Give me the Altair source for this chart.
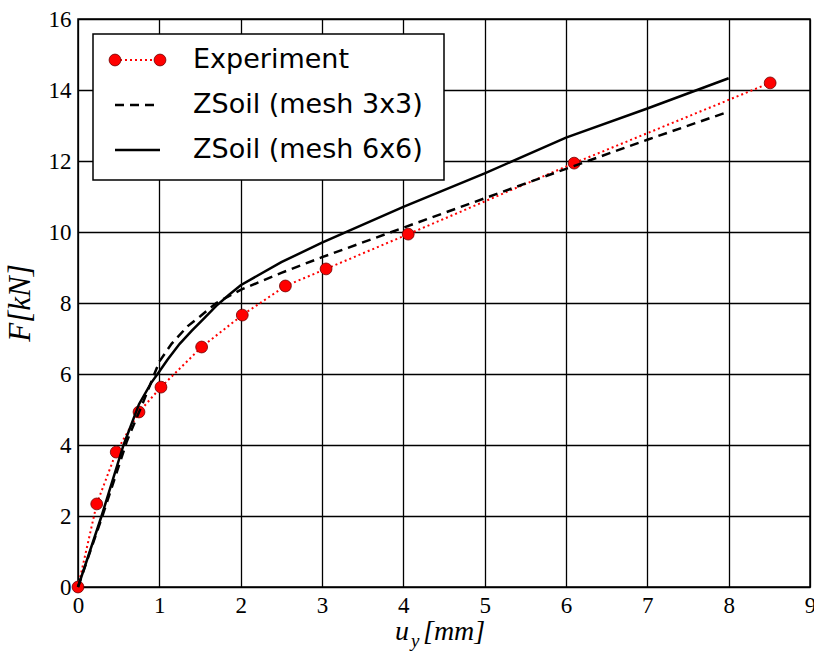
import altair as alt
import pandas as pd

# Experiment data
exp_u = [0, 0.23, 0.47, 0.75, 1.02, 1.52, 2.02, 2.55, 3.05, 4.06, 6.10, 8.51]
exp_F = [0, 2.34, 3.80, 4.93, 5.63, 6.76, 7.66, 8.48, 8.96, 9.94, 11.94, 14.20]

# ZSoil mesh 3x3 (dashed)
m3_u = [0, 0.30, 0.60, 0.80, 1.00, 1.15, 1.35, 1.50, 1.70, 2.00, 2.50, 3.00, 4.00, 5.00, 6.00, 7.00, 8.00]
m3_F = [0, 2.00, 4.10, 5.20, 6.35, 6.85, 7.35, 7.62, 8.00, 8.37, 8.85, 9.29, 10.12, 10.95, 11.78, 12.60, 13.39]

# ZSoil mesh 6x6 (solid)
m6_u = [0, 0.29, 0.56, 0.75, 0.90, 1.00, 1.10, 1.25, 1.40, 1.55, 1.70, 1.85, 2.00, 2.50, 3.00, 4.00, 5.00, 6.00, 7.00, 8.00]
m6_F = [0, 2.00, 4.00, 5.15, 5.75, 6.07, 6.40, 6.85, 7.22, 7.57, 7.92, 8.22, 8.50, 9.15, 9.70, 10.71, 11.65, 12.66, 13.48, 14.33]

x_ticks = list(range(0, 10))
y_ticks = list(range(0, 17, 2))
legend_labels = ["Experiment", "ZSoil (mesh 3x3)", "ZSoil (mesh 6x6)"]

df_exp = pd.DataFrame({"u": exp_u, "F": exp_F})
df_m3 = pd.DataFrame({"u": m3_u, "F": m3_F})
df_m6 = pd.DataFrame({"u": m6_u, "F": m6_F})
one = pd.DataFrame({"k": [0]})

SERIF = "'Liberation Serif', serif"

xs = alt.Scale(domain=[0, 9], nice=False, zero=False)
ys = alt.Scale(domain=[0, 16], nice=False, zero=False)

X = alt.X("u:Q", scale=xs, axis=alt.Axis(
    values=x_ticks, title=None, grid=True, ticks=False, domain=False,
    labelFont=SERIF, labelFontSize=23, labelPadding=7,
    labelColor="black", labelFlush=False, labelOverlap=False, labelBound=False,
    gridColor="black", gridWidth=1.3, gridOpacity=1))
Y = alt.Y("F:Q", scale=ys, axis=alt.Axis(
    values=y_ticks, title=None, grid=True, ticks=False, domain=False,
    labelFont=SERIF, labelFontSize=23, labelPadding=7,
    labelColor="black", labelFlush=False, labelOverlap=False, labelBound=False,
    gridColor="black", gridWidth=1.3, gridOpacity=1))

red_line = alt.Chart(df_exp).mark_line(color="red", strokeWidth=2, strokeDash=[2, 3]).encode(x=X, y=Y)
red_pts = alt.Chart(df_exp).mark_point(shape="circle", filled=True, fill="red", stroke="#700000",
                                       strokeWidth=0.8, size=140, opacity=1).encode(x=X, y=Y)
dashed = alt.Chart(df_m3).mark_line(color="black", strokeWidth=2.5, strokeDash=[9, 6]).encode(x=X, y=Y)
solid = alt.Chart(df_m6).mark_line(color="black", strokeWidth=2.5).encode(x=X, y=Y)

# Legend (drawn manually)
box = alt.Chart(one).mark_rect(fill="white", stroke="black", strokeWidth=1.5).encode(
    x=alt.value(15), x2=alt.value(366), y=alt.value(15), y2=alt.value(161))
rows_y = [41, 86, 131]
lg = [box]
lg.append(alt.Chart(one).mark_rule(color="red", strokeWidth=2, strokeDash=[2, 3]).encode(
    x=alt.value(37), x2=alt.value(82), y=alt.value(rows_y[0])))
for px in (37, 82):
    lg.append(alt.Chart(one).mark_point(shape="circle", filled=True, fill="red", stroke="#700000",
                                        strokeWidth=0.8, size=140, opacity=1).encode(
        x=alt.value(px), y=alt.value(rows_y[0])))
lg.append(alt.Chart(one).mark_rule(color="black", strokeWidth=2.5, strokeDash=[9, 6]).encode(
    x=alt.value(37), x2=alt.value(82), y=alt.value(rows_y[1])))
lg.append(alt.Chart(one).mark_rule(color="black", strokeWidth=2.5).encode(
    x=alt.value(37), x2=alt.value(82), y=alt.value(rows_y[2])))
for lab, ry in zip(legend_labels, rows_y):
    lg.append(alt.Chart(one).mark_text(align="left", baseline="middle", font="DejaVu Sans",
                                       fontSize=27, color="black").encode(
        x=alt.value(115), y=alt.value(ry), text=alt.value(lab)))

# Axis titles (math-style italic)
titles = [
    alt.Chart(one).mark_text(align="left", baseline="alphabetic", font=SERIF, fontStyle="italic",
                             fontSize=28, color="black").encode(
        x=alt.value(317), y=alt.value(621), text=alt.value("u")),
    alt.Chart(one).mark_text(align="left", baseline="alphabetic", font=SERIF, fontStyle="italic",
                             fontSize=19, color="black").encode(
        x=alt.value(333), y=alt.value(628), text=alt.value("y")),
    alt.Chart(one).mark_text(align="left", baseline="alphabetic", font=SERIF, fontStyle="italic",
                             fontSize=28, color="black").encode(
        x=alt.value(345), y=alt.value(621), text=alt.value("[mm]")),
    alt.Chart(one).mark_text(align="center", baseline="middle", font=SERIF, fontStyle="italic",
                             fontSize=31, color="black", angle=270).encode(
        x=alt.value(-57), y=alt.value(284), text=alt.value("F[kN]")),
]

chart = alt.layer(red_line, red_pts, dashed, solid, *lg, *titles).properties(
    width=732, height=568,
    autosize=alt.AutoSizeParams(type="none"),
    padding={"left": 78, "top": 19, "right": 4, "bottom": 68},
    background="white",
).configure_view(stroke="black", strokeWidth=1.5)

chart.save("out.html", embed_options={"renderer": "svg", "actions": False})
